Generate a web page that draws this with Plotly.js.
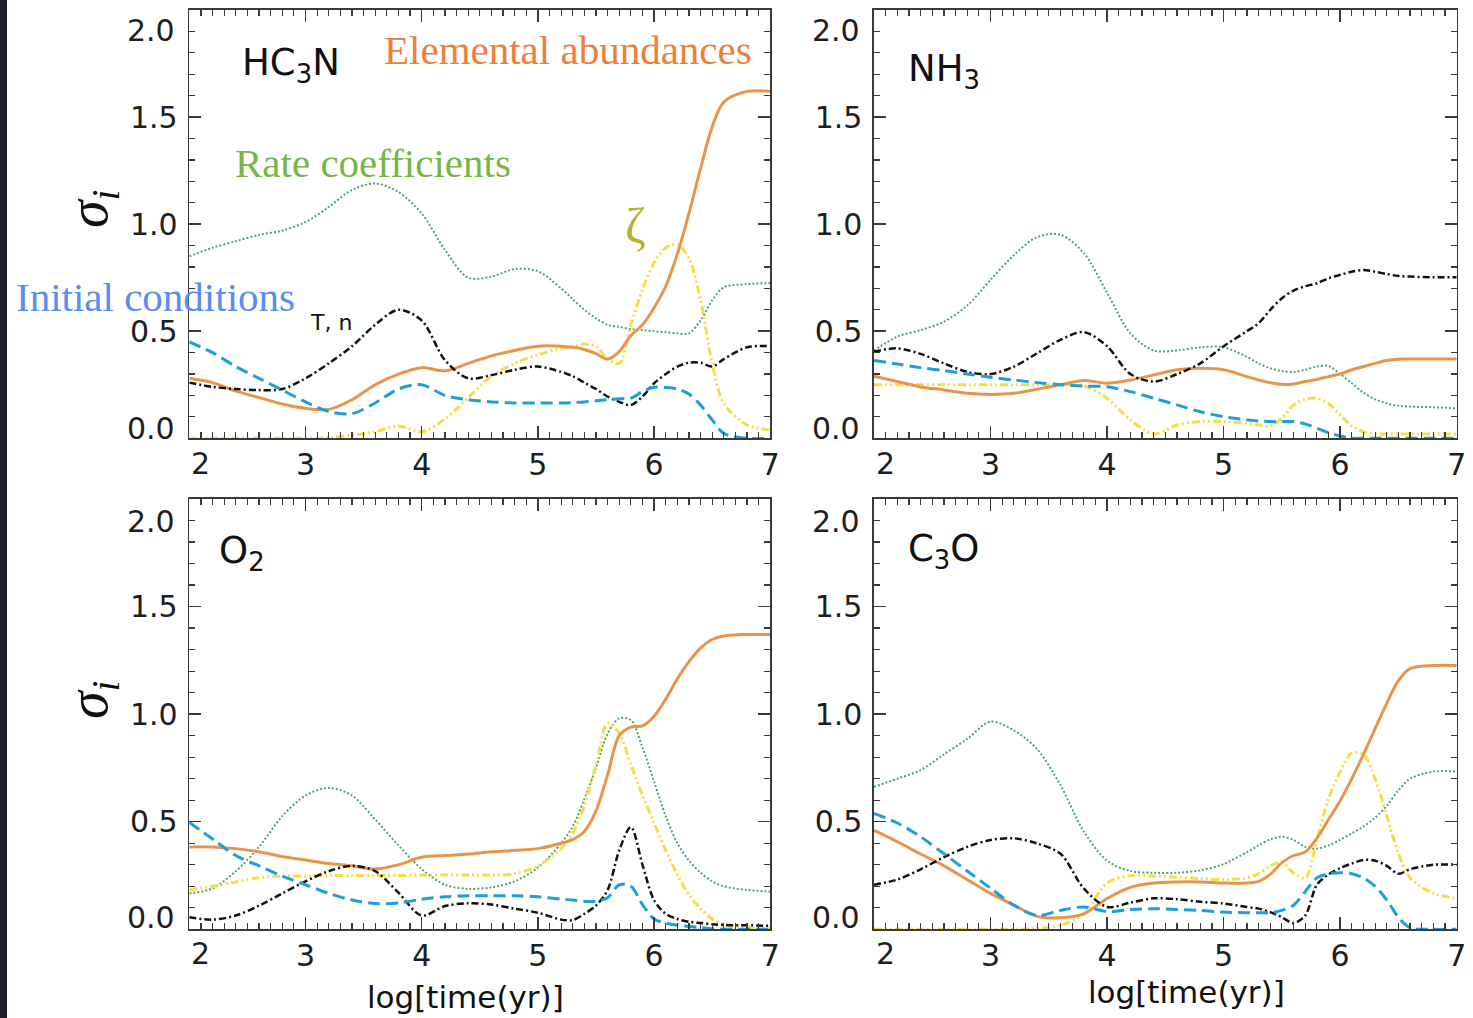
<!DOCTYPE html>
<html><head><meta charset="utf-8">
<script src="https://cdn.plot.ly/plotly-3.0.1.min.js"></script>
<style>html,body{margin:0;padding:0;background:#fff;} #chart{width:1473px;height:1018px;}</style>
</head><body><div id="chart"></div>
<script>
// log[time(yr)] sample grid
const X = [2.0,2.2,2.4,2.6,2.8,3.0,3.2,3.4,3.6,3.8,4.0,4.2,4.4,4.6,4.8,5.0,5.2,5.3,5.4,5.5,5.6,5.7,5.8,5.9,6.0,6.1,6.2,6.3,6.4,6.5,6.6,6.8,7.0];

// HC3N
const HC3N_rate = [0.85,0.89,0.92,0.95,0.97,1.01,1.08,1.16,1.19,1.15,1.05,0.88,0.75,0.755,0.79,0.78,0.70,0.65,0.60,0.56,0.53,0.52,0.51,0.505,0.50,0.495,0.49,0.49,0.55,0.645,0.705,0.72,0.725];
const HC3N_zeta = [0,0,0,0,0,0,0.003,0.015,0.03,0.058,0.03,0.09,0.19,0.29,0.35,0.39,0.42,0.43,0.44,0.43,0.37,0.35,0.53,0.695,0.82,0.89,0.905,0.84,0.645,0.35,0.163,0.062,0.04];
const HC3N_elem = [0.28,0.26,0.22,0.19,0.16,0.14,0.135,0.18,0.25,0.30,0.33,0.315,0.35,0.385,0.41,0.43,0.43,0.425,0.415,0.395,0.37,0.405,0.48,0.53,0.61,0.71,0.86,1.05,1.26,1.455,1.57,1.62,1.62];
const HC3N_Tn   = [0.26,0.24,0.23,0.225,0.23,0.28,0.35,0.43,0.53,0.60,0.55,0.365,0.28,0.295,0.32,0.335,0.31,0.29,0.26,0.23,0.195,0.17,0.155,0.195,0.257,0.30,0.335,0.353,0.353,0.335,0.37,0.425,0.43];
const HC3N_init = [0.45,0.40,0.335,0.28,0.225,0.17,0.125,0.115,0.165,0.23,0.25,0.20,0.18,0.17,0.165,0.165,0.165,0.167,0.17,0.175,0.18,0.185,0.187,0.218,0.238,0.237,0.23,0.207,0.155,0.086,0.023,0,0];

// NH3
const NH3_rate = [0.41,0.475,0.505,0.545,0.62,0.74,0.855,0.94,0.95,0.865,0.68,0.49,0.41,0.41,0.425,0.425,0.38,0.35,0.327,0.314,0.31,0.32,0.335,0.338,0.30,0.257,0.213,0.182,0.163,0.152,0.148,0.145,0.14];
const NH3_zeta = [0.25,0.25,0.25,0.25,0.25,0.25,0.25,0.25,0.25,0.245,0.187,0.086,0.02,0.062,0.078,0.078,0.07,0.062,0.058,0.093,0.156,0.182,0.187,0.163,0.109,0.058,0.031,0.023,0.02,0.02,0.02,0.02,0.02];
const NH3_elem = [0.29,0.265,0.24,0.226,0.21,0.205,0.21,0.229,0.25,0.27,0.257,0.272,0.296,0.32,0.327,0.32,0.288,0.272,0.26,0.252,0.254,0.265,0.275,0.288,0.30,0.32,0.335,0.35,0.363,0.369,0.37,0.37,0.37];
const NH3_Tn   = [0.405,0.42,0.394,0.35,0.31,0.30,0.335,0.397,0.46,0.496,0.43,0.30,0.265,0.30,0.35,0.43,0.50,0.537,0.60,0.654,0.69,0.71,0.724,0.747,0.763,0.778,0.786,0.778,0.767,0.758,0.755,0.752,0.752];
const NH3_init = [0.363,0.347,0.33,0.316,0.30,0.285,0.272,0.26,0.25,0.244,0.241,0.218,0.187,0.156,0.124,0.101,0.086,0.081,0.078,0.078,0.078,0.067,0.047,0.026,0.011,0,0,0,0,0,0,0,0];

// O2
const O2_rate = [0.167,0.19,0.27,0.383,0.526,0.622,0.657,0.622,0.51,0.39,0.28,0.207,0.188,0.195,0.223,0.287,0.40,0.478,0.606,0.75,0.91,0.98,0.973,0.845,0.686,0.526,0.40,0.32,0.263,0.223,0.20,0.183,0.175];
const O2_zeta = [0.183,0.2,0.22,0.24,0.247,0.247,0.25,0.25,0.25,0.25,0.252,0.252,0.252,0.252,0.258,0.295,0.375,0.446,0.574,0.765,0.957,0.91,0.765,0.622,0.494,0.367,0.255,0.16,0.096,0.048,0.02,0.008,0.003];
const O2_elem = [0.383,0.383,0.375,0.36,0.338,0.322,0.306,0.295,0.28,0.30,0.335,0.343,0.35,0.36,0.367,0.375,0.40,0.418,0.455,0.55,0.718,0.90,0.94,0.945,0.99,1.07,1.164,1.244,1.307,1.347,1.363,1.37,1.37];
const O2_Tn   = [0.056,0.045,0.064,0.11,0.167,0.223,0.27,0.295,0.27,0.17,0.064,0.108,0.121,0.115,0.096,0.077,0.045,0.043,0.072,0.11,0.183,0.367,0.475,0.30,0.135,0.072,0.048,0.035,0.029,0.024,0.02,0.019,0.016];
const O2_init = [0.497,0.42,0.343,0.295,0.247,0.207,0.167,0.136,0.12,0.122,0.14,0.151,0.156,0.156,0.156,0.151,0.14,0.136,0.13,0.13,0.147,0.207,0.2,0.115,0.048,0.029,0.019,0.013,0.008,0.003,0,0,0];

// C3O
const C3O_rate = [0.662,0.70,0.74,0.813,0.885,0.965,0.925,0.837,0.67,0.455,0.319,0.271,0.263,0.263,0.274,0.303,0.359,0.39,0.418,0.43,0.415,0.383,0.375,0.39,0.415,0.446,0.478,0.518,0.574,0.646,0.70,0.733,0.733];
const C3O_zeta = [0,0,0,0,0,0,0,0.003,0.019,0.072,0.215,0.25,0.247,0.242,0.236,0.231,0.239,0.258,0.295,0.311,0.263,0.239,0.415,0.606,0.733,0.82,0.813,0.70,0.526,0.351,0.239,0.167,0.144];
const C3O_elem = [0.46,0.407,0.35,0.295,0.231,0.167,0.112,0.06,0.054,0.072,0.143,0.195,0.215,0.22,0.22,0.215,0.215,0.223,0.255,0.31,0.343,0.359,0.423,0.51,0.598,0.70,0.813,0.933,1.05,1.156,1.212,1.226,1.226];
const C3O_Tn   = [0.207,0.231,0.279,0.335,0.383,0.415,0.423,0.399,0.351,0.19,0.104,0.124,0.144,0.14,0.128,0.12,0.104,0.096,0.08,0.056,0.029,0.064,0.207,0.255,0.284,0.306,0.322,0.319,0.295,0.258,0.279,0.30,0.30];
const C3O_init = [0.539,0.494,0.43,0.351,0.271,0.191,0.112,0.064,0.088,0.104,0.083,0.092,0.096,0.092,0.088,0.08,0.077,0.077,0.077,0.088,0.112,0.175,0.239,0.258,0.263,0.258,0.239,0.2,0.136,0.056,0.008,0,0];

const X_TICKS = [3,4,5,6,7];
const Y_TICKS = [0.5,1.0,1.5];
const Y_TICKTEXT = ['0.5','1.0','1.5'];

const STY = {
  rate: {color:'#4FA56B', width:2, dash:'2px,2px'},
  zeta: {color:'#F3DF45', width:3, dash:'8px,3px,2px,3px,2px,3px'},
  elem: {color:'#E8954B', width:3, dash:'solid'},
  Tn:   {color:'#111111', width:2.5, dash:'7px,3px,2px,3px'},
  init: {color:'#1CA0D7', width:3, dash:'12px,6px'}
};

const panels = [
  {ax:'', rate:HC3N_rate, zeta:HC3N_zeta, elem:HC3N_elem, Tn:HC3N_Tn, init:HC3N_init},
  {ax:'2', rate:NH3_rate, zeta:NH3_zeta, elem:NH3_elem, Tn:NH3_Tn, init:NH3_init},
  {ax:'3', rate:O2_rate, zeta:O2_zeta, elem:O2_elem, Tn:O2_Tn, init:O2_init},
  {ax:'4', rate:C3O_rate, zeta:C3O_zeta, elem:C3O_elem, Tn:C3O_Tn, init:C3O_init}
];

const traces = [];
panels.forEach(p => {
  ['rate','zeta','elem','Tn','init'].forEach(k => {
    traces.push({
      x: X, y: p[k], type:'scatter', mode:'lines',
      xaxis:'x'+p.ax, yaxis:'y'+p.ax,
      line:{color:STY[k].color, width:STY[k].width, dash:STY[k].dash, shape:'spline', smoothing:0.9},
      showlegend:false, hoverinfo:'skip'
    });
  });
});

const W = 1473, H = 1018;
const px = v => v / W;
const py = v => 1 - v / H;
const SANS = '"DejaVu Sans", Verdana, sans-serif';
const SERIF = '"Liberation Serif", "DejaVu Serif", serif';
const TICKFONT = {family:SANS, size:30, color:'#1e1e1e'};

function xa(domain, anchor){
  return {domain, anchor, range:[2,7], tickvals:X_TICKS, ticktext:X_TICKS.map(String),
    ticks:'inside', ticklen:12, tickwidth:1.5, tickcolor:'#3a3a3a',
    showline:true, linecolor:'#3a3a3a', linewidth:1.6, mirror:'ticks',
    showgrid:false, zeroline:false, tickfont:TICKFONT, ticklabelstandoff:-1,
    minor:{tick0:0, dtick:0.1, ticks:'inside', ticklen:6, tickwidth:1.2, tickcolor:'#3a3a3a', showgrid:false},
    fixedrange:true};
}
function ya(domain, anchor){
  return {domain, anchor, range:[0,2], tickvals:Y_TICKS, ticktext:Y_TICKTEXT,
    ticks:'inside', ticklen:12, tickwidth:1.5, tickcolor:'#3a3a3a',
    showline:true, linecolor:'#3a3a3a', linewidth:1.6, mirror:'ticks',
    showgrid:false, zeroline:false, tickfont:TICKFONT, ticklabelstandoff:4,
    minor:{tick0:0, dtick:0.1, ticks:'inside', ticklen:6, tickwidth:1.2, tickcolor:'#3a3a3a', showgrid:false},
    fixedrange:true};
}

const XL = [px(189.3), px(770.3)], XR = [px(874), px(1456.7)];
const YT = [py(438.3), py(10)], YB = [py(929.3), py(499)];

const ann = [];
function T(text, x, y, opts){ ann.push(Object.assign({text, x:px(x), y:py(y), xref:'paper', yref:'paper', showarrow:false, xanchor:'center', yanchor:'middle'}, opts)); }

// species
const SPF = {family:SANS, size:37, color:'#111'};
T('HC<sub>3</sub>N', 240, 65, {xanchor:'left', font:SPF});
T('NH<sub>3</sub>', 906, 71, {xanchor:'left', font:SPF});
T('O<sub>2</sub>', 217, 553, {xanchor:'left', font:SPF});
T('C<sub>3</sub>O', 906, 551, {xanchor:'left', font:SPF});
// factor labels
T('Elemental abundances', 568, 50, {font:{family:SERIF, size:41, color:'#EE7E3C'}});
T('Rate coefficients', 373, 163, {font:{family:SERIF, size:41, color:'#79B449'}});
T('ζ', 635, 226, {font:{family:SERIF, size:50, color:'#B5B234'}});
T('Initial conditions', 155, 297, {font:{family:SERIF, size:41, color:'#5A8CF1'}});
T('T, n', 331, 322, {font:{family:SANS, size:22, color:'#111'}});
// y titles
T('<i>σ<sub>i</sub></i>', 92, 209, {textangle:-90, font:{family:SERIF, size:56, color:'#111'}});
T('<i>σ<sub>i</sub></i>', 92, 700, {textangle:-90, font:{family:SERIF, size:56, color:'#111'}});
// x titles
T('log[time(yr)]', 465, 997, {font:{family:SANS, size:31, color:'#111'}});
T('log[time(yr)]', 1186, 992, {font:{family:SANS, size:31, color:'#111'}});
// edge tick labels (drawn inset as in the original)
[[177,200.7],[862,885]].forEach(([yr,xc]) => {
  [[31,428,463],[521,917,953]].forEach(([y2,y0,yx]) => {
    T('2.0', yr, y2, {xanchor:'right', font:TICKFONT});
    T('0.0', yr, y0, {xanchor:'right', font:TICKFONT});
    T('2', xc, yx, {font:TICKFONT});
  });
});

const layout = {
  width:W, height:H, margin:{l:0,r:0,t:0,b:0},
  paper_bgcolor:'#ffffff', plot_bgcolor:'#ffffff', showlegend:false,
  xaxis: xa(XL,'y'), yaxis: ya(YT,'x'),
  xaxis2: xa(XR,'y2'), yaxis2: ya(YT,'x2'),
  xaxis3: xa(XL,'y3'), yaxis3: ya(YB,'x3'),
  xaxis4: xa(XR,'y4'), yaxis4: ya(YB,'x4'),
  annotations: ann,
  shapes:[{type:'rect', xref:'paper', yref:'paper', x0:0, x1:px(7), y0:0, y1:1, fillcolor:'#1e1f24', line:{width:0}, layer:'above'}]
};

Plotly.newPlot('chart', traces, layout, {staticPlot:true, displayModeBar:false});
</script></body></html>
